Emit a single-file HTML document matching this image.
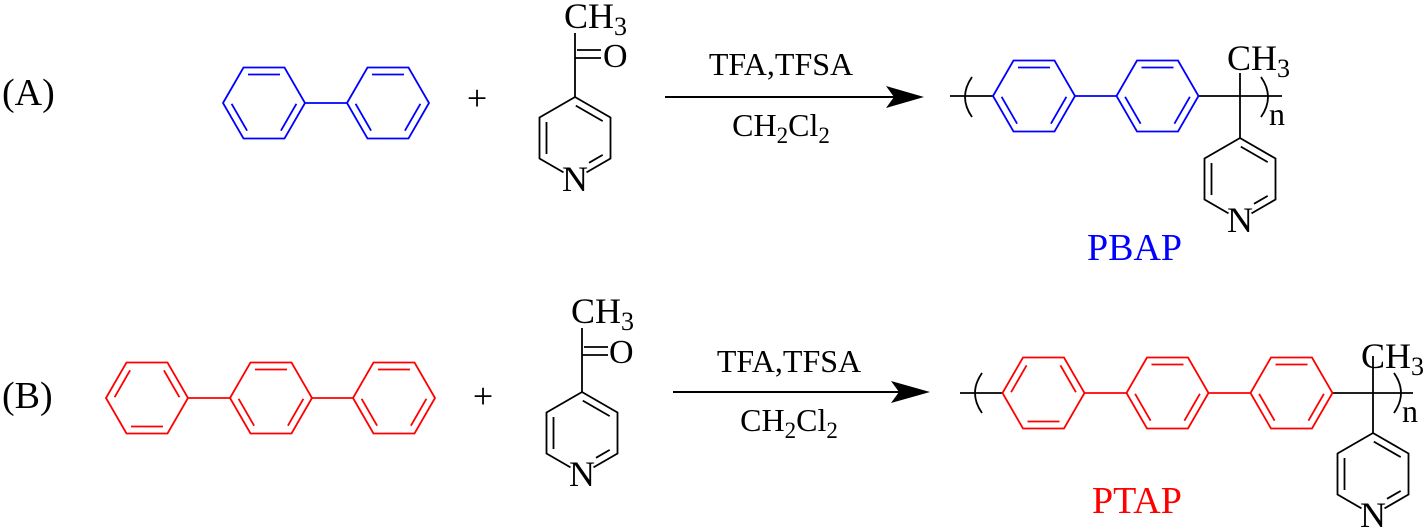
<!DOCTYPE html>
<html><head><meta charset="utf-8"><style>
html,body{margin:0;padding:0;background:#fff;}
svg{display:block;}
text{font-family:"Liberation Serif",serif;}
</style></head><body>
<svg width="1423" height="531" viewBox="0 0 1423 531" xmlns="http://www.w3.org/2000/svg">
<defs>
<g id="hexP1" fill="none" stroke-width="1.8">
<polygon points="-41,0 -20.5,-35.5 20.5,-35.5 41,0 20.5,35.5 -20.5,35.5"/>
<line x1="-16" y1="-28.5" x2="16" y2="-28.5"/>
<line x1="-32.4" y1="0.8" x2="-16.9" y2="27.7"/>
<line x1="32.4" y1="0.8" x2="16.9" y2="27.7"/>
</g>
<g id="hexP2" fill="none" stroke-width="1.8">
<polygon points="-41,0 -20.5,-35.5 20.5,-35.5 41,0 20.5,35.5 -20.5,35.5"/>
<line x1="-16" y1="28.5" x2="16" y2="28.5"/>
<line x1="-32.4" y1="-0.8" x2="-16.9" y2="-27.7"/>
<line x1="32.4" y1="-0.8" x2="16.9" y2="-27.7"/>
</g>
<g id="pyr" fill="none" stroke="#000" stroke-width="1.8">
<polyline points="-11.5,34.4 -35.5,20.5 -35.5,-20.5 0,-41 35.5,-20.5 35.5,20.5 11.5,34.4"/>
<line x1="0.8" y1="-32.4" x2="27.7" y2="-16.9"/>
<line x1="-28.5" y1="-16" x2="-28.5" y2="16"/>
<line x1="27.7" y1="16.9" x2="14" y2="24.8"/>
<text x="0" y="53" font-size="36" text-anchor="middle" fill="#000" stroke="none">N</text>
</g>
</defs>

<!-- (A) -->
<text x="2" y="105" font-size="38">(A)</text>
<g stroke="#0000ff">
<use href="#hexP1" x="264" y="103"/>
<use href="#hexP1" x="388" y="103"/>
<line x1="305" y1="103" x2="347" y2="103" stroke-width="1.8"/>
</g>
<text x="477" y="110" font-size="36" text-anchor="middle">+</text>
<use href="#pyr" x="575" y="138"/>
<g stroke="#000" stroke-width="1.8">
<line x1="575" y1="97" x2="575" y2="33"/>
<line x1="575" y1="58" x2="601" y2="58"/>
<line x1="577" y1="50" x2="601" y2="50"/>
</g>
<text x="564" y="28" font-size="36">CH<tspan font-size="26" dy="7">3</tspan></text>
<text x="603" y="67" font-size="34">O</text>
<line x1="665" y1="97" x2="895" y2="97" stroke="#000" stroke-width="2"/>
<polygon points="924,97 886,86 894,97 886,108" fill="#000"/>
<text x="781" y="75" font-size="32" text-anchor="middle">TFA,TFSA</text>
<text x="781" y="136" font-size="32" text-anchor="middle">CH<tspan font-size="23" dy="7">2</tspan><tspan dy="-7">Cl</tspan><tspan font-size="23" dy="7">2</tspan></text>

<g stroke="#000" stroke-width="1.8" fill="none">
<line x1="950" y1="96" x2="993" y2="96"/>
<line x1="1198" y1="96" x2="1282" y2="96"/>
<line x1="1240" y1="73" x2="1240" y2="138"/>
<path d="M972,77 Q958,97 972,117"/>
<path d="M1261,77 Q1275,97 1261,117"/>
</g>
<g stroke="#0000ff">
<use href="#hexP1" x="1034" y="96"/>
<use href="#hexP1" x="1157.5" y="96"/>
<line x1="1075" y1="96" x2="1117" y2="96" stroke-width="1.8"/>
</g>
<use href="#pyr" x="1240" y="179"/>
<text x="1227" y="70" font-size="36">CH<tspan font-size="26" dy="7">3</tspan></text>
<text x="1269" y="125" font-size="32">n</text>
<text x="1087" y="260" font-size="38" fill="#0000ff">PBAP</text>

<!-- (B) -->
<text x="2" y="408" font-size="38">(B)</text>
<g stroke="#ff0000">
<use href="#hexP2" x="147" y="398"/>
<use href="#hexP1" x="271" y="398"/>
<use href="#hexP1" x="394" y="398"/>
<line x1="188" y1="398" x2="230" y2="398" stroke-width="1.8"/>
<line x1="312" y1="398" x2="353" y2="398" stroke-width="1.8"/>
</g>
<text x="483" y="408" font-size="36" text-anchor="middle">+</text>
<use href="#pyr" x="582" y="433"/>
<g stroke="#000" stroke-width="1.8">
<line x1="582" y1="392" x2="582" y2="328"/>
<line x1="582" y1="355" x2="608" y2="355"/>
<line x1="584" y1="347" x2="608" y2="347"/>
</g>
<text x="571" y="323" font-size="36">CH<tspan font-size="26" dy="7">3</tspan></text>
<text x="609" y="363" font-size="34">O</text>
<line x1="673" y1="392" x2="900" y2="392" stroke="#000" stroke-width="2"/>
<polygon points="930,392 891,381 899,392 891,403" fill="#000"/>
<text x="789" y="372" font-size="32" text-anchor="middle">TFA,TFSA</text>
<text x="789" y="431" font-size="32" text-anchor="middle">CH<tspan font-size="23" dy="7">2</tspan><tspan dy="-7">Cl</tspan><tspan font-size="23" dy="7">2</tspan></text>

<g stroke="#000" stroke-width="1.8" fill="none">
<line x1="960" y1="393" x2="1003" y2="393"/>
<line x1="1333" y1="393" x2="1413" y2="393"/>
<line x1="1373" y1="356" x2="1373" y2="433"/>
<path d="M982,373 Q968,393 982,413"/>
<path d="M1394,373 Q1408,393 1394,413"/>
</g>
<g stroke="#ff0000">
<use href="#hexP2" x="1043.5" y="393"/>
<use href="#hexP1" x="1167.5" y="393"/>
<use href="#hexP1" x="1291.5" y="393"/>
<line x1="1084" y1="393" x2="1127" y2="393" stroke-width="1.8"/>
<line x1="1208" y1="393" x2="1250" y2="393" stroke-width="1.8"/>
</g>
<use href="#pyr" x="1373" y="474"/>
<text x="1361" y="368" font-size="36">CH<tspan font-size="26" dy="7">3</tspan></text>
<text x="1402" y="422" font-size="32">n</text>
<text x="1092" y="513" font-size="38" fill="#ff0000">PTAP</text>
</svg>
</body></html>
